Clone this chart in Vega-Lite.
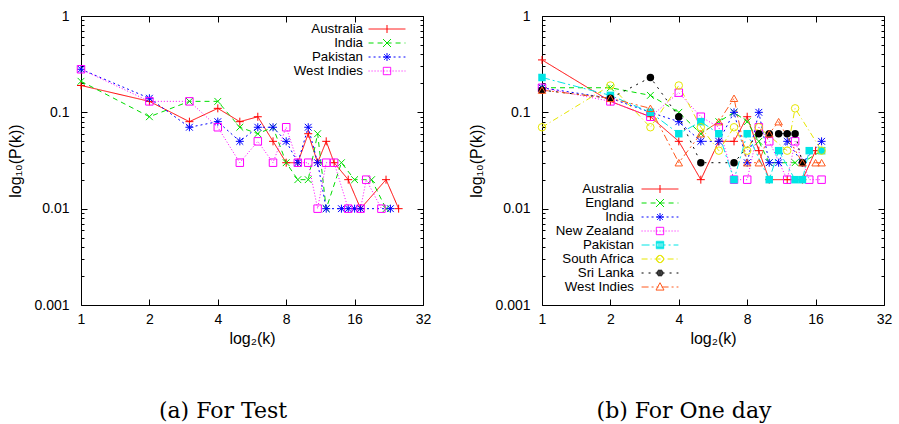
{
  "$schema": "https://vega.github.io/schema/vega-lite/v6.json",
  "padding": {"left": 7, "top": 8, "right": 0, "bottom": 0},
  "background": "white",
  "datasets": {
    "test": [
      {"team":"Australia","k":1,"p":0.19},{"team":"Australia","k":2,"p":0.13},{"team":"Australia","k":3,"p":0.08},{"team":"Australia","k":4,"p":0.11},{"team":"Australia","k":5,"p":0.08},{"team":"Australia","k":6,"p":0.09},{"team":"Australia","k":7,"p":0.05},{"team":"Australia","k":8,"p":0.03},{"team":"Australia","k":9,"p":0.03},{"team":"Australia","k":10,"p":0.06},{"team":"Australia","k":11,"p":0.03},{"team":"Australia","k":12,"p":0.05},{"team":"Australia","k":13,"p":0.03},{"team":"Australia","k":15,"p":0.02},{"team":"Australia","k":17,"p":0.01},{"team":"Australia","k":22,"p":0.02},{"team":"Australia","k":25,"p":0.01},
      {"team":"India","k":1,"p":0.21},{"team":"India","k":2,"p":0.09},{"team":"India","k":3,"p":0.13},{"team":"India","k":4,"p":0.13},{"team":"India","k":5,"p":0.07},{"team":"India","k":6,"p":0.06},{"team":"India","k":7,"p":0.07},{"team":"India","k":8,"p":0.03},{"team":"India","k":9,"p":0.02},{"team":"India","k":10,"p":0.02},{"team":"India","k":11,"p":0.06},{"team":"India","k":12,"p":0.01},{"team":"India","k":14,"p":0.03},{"team":"India","k":16,"p":0.02},{"team":"India","k":19,"p":0.02},{"team":"India","k":22,"p":0.01},
      {"team":"Pakistan","k":1,"p":0.28},{"team":"Pakistan","k":2,"p":0.14},{"team":"Pakistan","k":3,"p":0.07},{"team":"Pakistan","k":4,"p":0.08},{"team":"Pakistan","k":5,"p":0.05},{"team":"Pakistan","k":6,"p":0.07},{"team":"Pakistan","k":7,"p":0.07},{"team":"Pakistan","k":8,"p":0.05},{"team":"Pakistan","k":9,"p":0.03},{"team":"Pakistan","k":10,"p":0.07},{"team":"Pakistan","k":11,"p":0.03},{"team":"Pakistan","k":12,"p":0.01},{"team":"Pakistan","k":14,"p":0.01},{"team":"Pakistan","k":15,"p":0.01},{"team":"Pakistan","k":16,"p":0.01},{"team":"Pakistan","k":17,"p":0.01},{"team":"Pakistan","k":23,"p":0.01},
      {"team":"West Indies","k":1,"p":0.28},{"team":"West Indies","k":2,"p":0.13},{"team":"West Indies","k":3,"p":0.13},{"team":"West Indies","k":4,"p":0.07},{"team":"West Indies","k":5,"p":0.03},{"team":"West Indies","k":6,"p":0.05},{"team":"West Indies","k":7,"p":0.03},{"team":"West Indies","k":8,"p":0.07},{"team":"West Indies","k":9,"p":0.03},{"team":"West Indies","k":10,"p":0.03},{"team":"West Indies","k":11,"p":0.01},{"team":"West Indies","k":12,"p":0.03},{"team":"West Indies","k":13,"p":0.03},{"team":"West Indies","k":15,"p":0.01},{"team":"West Indies","k":17,"p":0.01},{"team":"West Indies","k":18,"p":0.02},{"team":"West Indies","k":21,"p":0.01}
    ],
    "odi": [
      {"team":"Australia","k":1,"p":0.35},{"team":"Australia","k":2,"p":0.13},{"team":"Australia","k":3,"p":0.09},{"team":"Australia","k":4,"p":0.05},{"team":"Australia","k":5,"p":0.02},{"team":"Australia","k":6,"p":0.05},{"team":"Australia","k":7,"p":0.05},{"team":"Australia","k":8,"p":0.09},{"team":"Australia","k":9,"p":0.04},{"team":"Australia","k":10,"p":0.02},{"team":"Australia","k":12,"p":0.02},{"team":"Australia","k":14,"p":0.02},{"team":"Australia","k":16,"p":0.04},
      {"team":"England","k":1,"p":0.18},{"team":"England","k":2,"p":0.18},{"team":"England","k":3,"p":0.15},{"team":"England","k":4,"p":0.1},{"team":"England","k":5,"p":0.06},{"team":"England","k":6,"p":0.08},{"team":"England","k":7,"p":0.1},{"team":"England","k":8,"p":0.08},{"team":"England","k":9,"p":0.05},{"team":"England","k":10,"p":0.03},{"team":"England","k":13,"p":0.03},{"team":"England","k":14,"p":0.03},{"team":"England","k":17,"p":0.04},
      {"team":"India","k":1,"p":0.18},{"team":"India","k":2,"p":0.14},{"team":"India","k":3,"p":0.1},{"team":"India","k":4,"p":0.08},{"team":"India","k":5,"p":0.05},{"team":"India","k":6,"p":0.05},{"team":"India","k":7,"p":0.1},{"team":"India","k":8,"p":0.03},{"team":"India","k":9,"p":0.1},{"team":"India","k":10,"p":0.03},{"team":"India","k":11,"p":0.03},{"team":"India","k":12,"p":0.05},{"team":"India","k":14,"p":0.03},{"team":"India","k":17,"p":0.05},
      {"team":"New Zealand","k":1,"p":0.18},{"team":"New Zealand","k":2,"p":0.13},{"team":"New Zealand","k":3,"p":0.09},{"team":"New Zealand","k":4,"p":0.16},{"team":"New Zealand","k":5,"p":0.09},{"team":"New Zealand","k":6,"p":0.07},{"team":"New Zealand","k":7,"p":0.02},{"team":"New Zealand","k":8,"p":0.02},{"team":"New Zealand","k":9,"p":0.07},{"team":"New Zealand","k":10,"p":0.05},{"team":"New Zealand","k":12,"p":0.02},{"team":"New Zealand","k":13,"p":0.05},{"team":"New Zealand","k":15,"p":0.02},{"team":"New Zealand","k":17,"p":0.02},
      {"team":"Pakistan","k":1,"p":0.23},{"team":"Pakistan","k":2,"p":0.15},{"team":"Pakistan","k":3,"p":0.1},{"team":"Pakistan","k":4,"p":0.06},{"team":"Pakistan","k":5,"p":0.08},{"team":"Pakistan","k":6,"p":0.06},{"team":"Pakistan","k":7,"p":0.02},{"team":"Pakistan","k":8,"p":0.06},{"team":"Pakistan","k":10,"p":0.02},{"team":"Pakistan","k":11,"p":0.04},{"team":"Pakistan","k":13,"p":0.02},{"team":"Pakistan","k":14,"p":0.02},{"team":"Pakistan","k":15,"p":0.04},{"team":"Pakistan","k":17,"p":0.04},
      {"team":"South Africa","k":1,"p":0.07},{"team":"South Africa","k":2,"p":0.19},{"team":"South Africa","k":3,"p":0.07},{"team":"South Africa","k":4,"p":0.19},{"team":"South Africa","k":5,"p":0.07},{"team":"South Africa","k":6,"p":0.04},{"team":"South Africa","k":7,"p":0.07},{"team":"South Africa","k":8,"p":0.04},{"team":"South Africa","k":9,"p":0.07},{"team":"South Africa","k":12,"p":0.04},{"team":"South Africa","k":13,"p":0.11},{"team":"South Africa","k":17,"p":0.04},
      {"team":"Sri Lanka","k":1,"p":0.17},{"team":"Sri Lanka","k":2,"p":0.14},{"team":"Sri Lanka","k":3,"p":0.23},{"team":"Sri Lanka","k":4,"p":0.09},{"team":"Sri Lanka","k":5,"p":0.03},{"team":"Sri Lanka","k":7,"p":0.03},{"team":"Sri Lanka","k":9,"p":0.06},{"team":"Sri Lanka","k":10,"p":0.06},{"team":"Sri Lanka","k":11,"p":0.06},{"team":"Sri Lanka","k":12,"p":0.06},{"team":"Sri Lanka","k":13,"p":0.06},{"team":"Sri Lanka","k":14,"p":0.03},
      {"team":"West Indies","k":1,"p":0.17},{"team":"West Indies","k":2,"p":0.14},{"team":"West Indies","k":3,"p":0.11},{"team":"West Indies","k":4,"p":0.03},{"team":"West Indies","k":5,"p":0.06},{"team":"West Indies","k":6,"p":0.08},{"team":"West Indies","k":7,"p":0.14},{"team":"West Indies","k":8,"p":0.03},{"team":"West Indies","k":9,"p":0.03},{"team":"West Indies","k":10,"p":0.06},{"team":"West Indies","k":11,"p":0.08},{"team":"West Indies","k":14,"p":0.03},{"team":"West Indies","k":16,"p":0.03},{"team":"West Indies","k":17,"p":0.03}
    ]
  },
  "hconcat": [
    {
      "width": 342, "height": 289,
      "data": {"name": "test"},
      "title": {"text": "(a) For Test", "orient": "bottom", "anchor": "middle", "frame": "group", "dx": -29, "offset": 55, "font": "DejaVu Serif", "fontSize": 22, "fontWeight": "normal", "color": "black"},
      "layer": [
        {
          "transform": [{"filter": "false"}],
          "mark": {"type": "point", "filled": false, "opacity": 1, "strokeWidth": 1},
          "encoding": {
            "x": {"field": "k", "type": "quantitative", "scale": {"type": "log", "base": 2, "domain": [1, 32], "nice": false}, "axis": null},
            "y": {"field": "p", "type": "quantitative", "scale": {"type": "log", "domain": [0.001, 1], "nice": false}, "axis": null},
            "color": {"field": "team", "type": "nominal",
                      "scale": {"domain": ["Australia", "India", "Pakistan", "West Indies"], "range": ["#ff0000", "#00dd00", "#0000ff", "#ff00ff"]},
                      "legend": {"orient": "none", "legendX": 299, "legendY": 6, "title": null, "padding": 0, "labelAlign": "right", "labelOffset": -31, "labelFontSize": 13.3, "labelFont": "Liberation Sans", "labelColor": "black", "labelLimit": 0, "symbolSize": 151, "symbolStrokeWidth": 1, "symbolOpacity": 1, "rowPadding": 0}},
            "shape": {"field": "team", "type": "nominal",
                      "scale": {"domain": ["Australia", "India", "Pakistan", "West Indies"],
                                "range": [
                                  "M-3,0H3M0,-0.65V0.65",
                                  "M-3,0H3M0,0L0.33,0.33M0.33,0.33L0.65,0.65M0,0L-0.33,-0.33M-0.33,-0.33L-0.65,-0.65M0,0L0.33,-0.33M0.33,-0.33L0.65,-0.65M0,0L-0.33,0.33M-0.33,0.33L-0.65,0.65",
                                  "M-3,0H3M0,0V0.32M0,0.32V0.65M0,0V-0.32M0,-0.32V-0.65M0,0H0.32M0.32,0H0.65M0,0H-0.32M-0.32,0H-0.65M0,0L0.23,0.23M0.23,0.23L0.46,0.46M0,0L-0.23,-0.23M-0.23,-0.23L-0.46,-0.46M0,0L0.23,-0.23M0.23,-0.23L0.46,-0.46M0,0L-0.23,0.23M-0.23,0.23L-0.46,0.46",
                                  "M-3,0H3M-0.6,-0.6H-0.45M-0.45,-0.6H-0.3M-0.3,-0.6H-0.15M-0.15,-0.6H0M0,-0.6H0.15M0.15,-0.6H0.3M0.3,-0.6H0.45M0.45,-0.6H0.6M-0.6,0.6H-0.45M-0.45,0.6H-0.3M-0.3,0.6H-0.15M-0.15,0.6H0M0,0.6H0.15M0.15,0.6H0.3M0.3,0.6H0.45M0.45,0.6H0.6M-0.6,-0.6V-0.45M-0.6,-0.45V-0.3M-0.6,-0.3V-0.15M-0.6,-0.15V0M-0.6,0V0.15M-0.6,0.15V0.3M-0.6,0.3V0.45M-0.6,0.45V0.6M0.6,-0.6V-0.45M0.6,-0.45V-0.3M0.6,-0.3V-0.15M0.6,-0.15V0M0.6,0V0.15M0.6,0.15V0.3M0.6,0.3V0.45M0.6,0.45V0.6"
                                ]}},
            "strokeDash": {"field": "team", "type": "nominal",
                           "scale": {"domain": ["Australia", "India", "Pakistan", "West Indies"], "range": [[1, 0], [5, 4], [2, 3], [1, 2]]}}
          }
        },
        {
          "mark": {"type": "line", "strokeWidth": 1, "clip": true},
          "encoding": {
            "x": {"field": "k", "type": "quantitative", "scale": {"type": "log", "base": 2, "domain": [1, 32], "nice": false},
                  "axis": {"orient": "bottom", "values": [1, 2, 4, 8, 16, 32], "format": "d", "tickSize": -6, "labelPadding": 13, "title": "log₂(k)", "titlePadding": 4}},
            "y": {"field": "p", "type": "quantitative", "scale": {"type": "log", "domain": [0.001, 1], "nice": false},
                  "axis": {"orient": "left", "values": [0.001,0.002,0.003,0.004,0.005,0.006,0.007,0.008,0.009,0.01,0.02,0.03,0.04,0.05,0.06,0.07,0.08,0.09,0.1,0.2,0.3,0.4,0.5,0.6,0.7,0.8,0.9,1],
                           "format": "~g", "labelExpr": "(datum.value==1||datum.value==0.1||datum.value==0.01||datum.value==0.001) ? datum.label : ''",
                           "tickSize": {"condition": {"test": "datum.value==1||datum.value==0.1||datum.value==0.01||datum.value==0.001", "value": -6}, "value": -3},
                           "labelPadding": 18, "title": "log₁₀(P(k))", "titlePadding": 10}},
            "color": {"field": "team", "type": "nominal"},
            "strokeDash": {"field": "team", "type": "nominal"}
          }
        },
        {
          "transform": [{"filter": {"field": "team", "equal": "Australia"}}],
          "mark": {"type": "point", "shape": "M-1,0H1M0,-1V1", "filled": false, "size": 64, "strokeWidth": 1, "opacity": 1},
          "encoding": {
            "x": {"field": "k", "type": "quantitative", "scale": {"type": "log", "base": 2, "domain": [1, 32], "nice": false},
                  "axis": {"orient": "top", "values": [1, 2, 4, 8, 16, 32], "labels": false, "tickSize": -6, "title": null}},
            "y": {"field": "p", "type": "quantitative", "scale": {"type": "log", "domain": [0.001, 1], "nice": false},
                  "axis": {"orient": "right", "values": [0.001,0.002,0.003,0.004,0.005,0.006,0.007,0.008,0.009,0.01,0.02,0.03,0.04,0.05,0.06,0.07,0.08,0.09,0.1,0.2,0.3,0.4,0.5,0.6,0.7,0.8,0.9,1],
                           "labels": false, "title": null,
                           "tickSize": {"condition": {"test": "datum.value==1||datum.value==0.1||datum.value==0.01||datum.value==0.001", "value": -6}, "value": -3}}},
            "color": {"field": "team", "type": "nominal"}
          }
        },
        {
          "transform": [{"filter": {"field": "team", "equal": "India"}}],
          "mark": {"type": "point", "shape": "M-0.85,-0.85L0.85,0.85M-0.85,0.85L0.85,-0.85", "filled": false, "size": 64, "strokeWidth": 1, "opacity": 1},
          "encoding": {
            "x": {"field": "k", "type": "quantitative", "axis": null},
            "y": {"field": "p", "type": "quantitative", "axis": null},
            "color": {"field": "team", "type": "nominal"}
          }
        },
        {
          "transform": [{"filter": {"field": "team", "equal": "Pakistan"}}],
          "mark": {"type": "point", "shape": "M-1,0H1M0,-1V1M-0.85,-0.85L0.85,0.85M-0.85,0.85L0.85,-0.85", "filled": false, "size": 64, "strokeWidth": 1, "opacity": 1},
          "encoding": {
            "x": {"field": "k", "type": "quantitative", "axis": null},
            "y": {"field": "p", "type": "quantitative", "axis": null},
            "color": {"field": "team", "type": "nominal"}
          }
        },
        {
          "transform": [{"filter": {"field": "team", "equal": "West Indies"}}],
          "mark": {"type": "point", "shape": "square", "filled": false, "size": 56, "strokeWidth": 1, "opacity": 1},
          "encoding": {
            "x": {"field": "k", "type": "quantitative", "axis": null},
            "y": {"field": "p", "type": "quantitative", "axis": null},
            "color": {"field": "team", "type": "nominal"}
          }
        }
      ],
      "resolve": {"axis": {"x": "independent", "y": "independent"}}
    },
    {
      "width": 342, "height": 289,
      "data": {"name": "odi"},
      "title": {"text": "(b) For One day", "orient": "bottom", "anchor": "middle", "frame": "group", "dx": -29, "offset": 55, "font": "DejaVu Serif", "fontSize": 22, "fontWeight": "normal", "color": "black"},
      "layer": [
        {
          "transform": [{"filter": "false"}],
          "mark": {"type": "point", "filled": false, "opacity": 1, "strokeWidth": 1},
          "encoding": {
            "x": {"field": "k", "type": "quantitative", "scale": {"type": "log", "base": 2, "domain": [1, 32], "nice": false}, "axis": null},
            "y": {"field": "p", "type": "quantitative", "scale": {"type": "log", "domain": [0.001, 1], "nice": false}, "axis": null},
            "color": {"field": "team", "type": "nominal",
                      "scale": {"domain": ["Australia", "England", "India", "New Zealand", "Pakistan", "South Africa", "Sri Lanka", "West Indies"],
                                "range": ["#ff0000", "#00dd00", "#0000ff", "#ff00ff", "#00e5e5", "#e6e600", "#000000", "#ff5a1e"]},
                      "legend": {"orient": "none", "legendX": 111, "legendY": 166, "title": null, "padding": 0, "labelAlign": "right", "labelOffset": -33, "labelFontSize": 13.3, "labelFont": "Liberation Sans", "labelColor": "black", "labelLimit": 0, "symbolSize": 151, "symbolStrokeWidth": 1, "symbolOpacity": 1, "rowPadding": 0}},
            "shape": {"field": "team", "type": "nominal",
                      "scale": {"domain": ["Australia", "England", "India", "New Zealand", "Pakistan", "South Africa", "Sri Lanka", "West Indies"],
                                "range": [
                                  "M-3,0H3M0,-0.65V0.65",
                                  "M-3,0H3M0,0L0.33,0.33M0.33,0.33L0.65,0.65M0,0L-0.33,-0.33M-0.33,-0.33L-0.65,-0.65M0,0L0.33,-0.33M0.33,-0.33L0.65,-0.65M0,0L-0.33,0.33M-0.33,0.33L-0.65,0.65",
                                  "M-3,0H3M0,0V0.32M0,0.32V0.65M0,0V-0.32M0,-0.32V-0.65M0,0H0.32M0.32,0H0.65M0,0H-0.32M-0.32,0H-0.65M0,0L0.23,0.23M0.23,0.23L0.46,0.46M0,0L-0.23,-0.23M-0.23,-0.23L-0.46,-0.46M0,0L0.23,-0.23M0.23,-0.23L0.46,-0.46M0,0L-0.23,0.23M-0.23,0.23L-0.46,0.46",
                                  "M-3,0H3M-0.6,-0.6H-0.45M-0.45,-0.6H-0.3M-0.3,-0.6H-0.15M-0.15,-0.6H0M0,-0.6H0.15M0.15,-0.6H0.3M0.3,-0.6H0.45M0.45,-0.6H0.6M-0.6,0.6H-0.45M-0.45,0.6H-0.3M-0.3,0.6H-0.15M-0.15,0.6H0M0,0.6H0.15M0.15,0.6H0.3M0.3,0.6H0.45M0.45,0.6H0.6M-0.6,-0.6V-0.45M-0.6,-0.45V-0.3M-0.6,-0.3V-0.15M-0.6,-0.15V0M-0.6,0V0.15M-0.6,0.15V0.3M-0.6,0.3V0.45M-0.6,0.45V0.6M0.6,-0.6V-0.45M0.6,-0.45V-0.3M0.6,-0.3V-0.15M0.6,-0.15V0M0.6,0V0.15M0.6,0.15V0.3M0.6,0.3V0.45M0.6,0.45V0.6",
                                  "M-3,0H3M-0.6,-0.6H0.6M0.6,-0.6V0.6M0.6,0.6H-0.6M-0.6,0.6V-0.6M-0.6,-0.4H0.6M-0.6,-0.2H0.6M-0.6,0.2H0.6M-0.6,0.4H0.6",
                                  "M-3,0H3M0.6,0A0.6,0.6,0,0,1,0,0.6M0,0.6A0.6,0.6,0,0,1,-0.6,0M-0.6,0A0.6,0.6,0,0,1,0,-0.6M0,-0.6A0.6,0.6,0,0,1,0.6,0",
                                  "M-3,0H3M-0.53,-0.15H-0.27M-0.27,-0.15H0M0,-0.15H0.27M0.27,-0.15H0.53M-0.53,0.15H-0.27M-0.27,0.15H0M0,0.15H0.27M0.27,0.15H0.53M-0.46,-0.3H-0.15M-0.15,-0.3H0.15M0.15,-0.3H0.46M-0.46,0.3H-0.15M-0.15,0.3H0.15M0.15,0.3H0.46M-0.32,-0.45H0M0,-0.45H0.32M-0.32,0.45H0M0,0.45H0.32M-0.55,0H-0.28M-0.28,0H0M0,0H0.28M0.28,0H0.55",
                                  "M-3,0H3M0,-0.7L0.325,-0.1M0.325,-0.1L0.65,0.5M0.65,0.5L0,0.5M0,0.5L-0.65,0.5M-0.65,0.5L-0.325,-0.1M-0.325,-0.1L0,-0.7"
                                ]}},
            "strokeDash": {"field": "team", "type": "nominal",
                           "scale": {"domain": ["Australia", "England", "India", "New Zealand", "Pakistan", "South Africa", "Sri Lanka", "West Indies"],
                                     "range": [[1, 0], [5, 4], [2, 3], [1, 2], [8, 3, 2, 3], [6, 3, 1, 3], [2, 5], [7, 3, 2, 3, 2, 3]]}}
          }
        },
        {
          "mark": {"type": "line", "strokeWidth": 1, "clip": true},
          "encoding": {
            "x": {"field": "k", "type": "quantitative", "scale": {"type": "log", "base": 2, "domain": [1, 32], "nice": false},
                  "axis": {"orient": "bottom", "values": [1, 2, 4, 8, 16, 32], "format": "d", "tickSize": -6, "labelPadding": 13, "title": "log₂(k)", "titlePadding": 4}},
            "y": {"field": "p", "type": "quantitative", "scale": {"type": "log", "domain": [0.001, 1], "nice": false},
                  "axis": {"orient": "left", "values": [0.001,0.002,0.003,0.004,0.005,0.006,0.007,0.008,0.009,0.01,0.02,0.03,0.04,0.05,0.06,0.07,0.08,0.09,0.1,0.2,0.3,0.4,0.5,0.6,0.7,0.8,0.9,1],
                           "format": "~g", "labelExpr": "(datum.value==1||datum.value==0.1||datum.value==0.01||datum.value==0.001) ? datum.label : ''",
                           "tickSize": {"condition": {"test": "datum.value==1||datum.value==0.1||datum.value==0.01||datum.value==0.001", "value": -6}, "value": -3},
                           "labelPadding": 18, "title": "log₁₀(P(k))", "titlePadding": 10}},
            "color": {"field": "team", "type": "nominal"},
            "strokeDash": {"field": "team", "type": "nominal"}
          }
        },
        {
          "transform": [{"filter": {"field": "team", "equal": "Australia"}}],
          "mark": {"type": "point", "shape": "M-1,0H1M0,-1V1", "filled": false, "size": 64, "strokeWidth": 1, "opacity": 1},
          "encoding": {
            "x": {"field": "k", "type": "quantitative", "scale": {"type": "log", "base": 2, "domain": [1, 32], "nice": false},
                  "axis": {"orient": "top", "values": [1, 2, 4, 8, 16, 32], "labels": false, "tickSize": -6, "title": null}},
            "y": {"field": "p", "type": "quantitative", "scale": {"type": "log", "domain": [0.001, 1], "nice": false},
                  "axis": {"orient": "right", "values": [0.001,0.002,0.003,0.004,0.005,0.006,0.007,0.008,0.009,0.01,0.02,0.03,0.04,0.05,0.06,0.07,0.08,0.09,0.1,0.2,0.3,0.4,0.5,0.6,0.7,0.8,0.9,1],
                           "labels": false, "title": null,
                           "tickSize": {"condition": {"test": "datum.value==1||datum.value==0.1||datum.value==0.01||datum.value==0.001", "value": -6}, "value": -3}}},
            "color": {"field": "team", "type": "nominal"}
          }
        },
        {
          "transform": [{"filter": {"field": "team", "equal": "England"}}],
          "mark": {"type": "point", "shape": "M-0.85,-0.85L0.85,0.85M-0.85,0.85L0.85,-0.85", "filled": false, "size": 64, "strokeWidth": 1, "opacity": 1},
          "encoding": {"x": {"field": "k", "type": "quantitative", "axis": null}, "y": {"field": "p", "type": "quantitative", "axis": null}, "color": {"field": "team", "type": "nominal"}}
        },
        {
          "transform": [{"filter": {"field": "team", "equal": "India"}}],
          "mark": {"type": "point", "shape": "M-1,0H1M0,-1V1M-0.85,-0.85L0.85,0.85M-0.85,0.85L0.85,-0.85", "filled": false, "size": 64, "strokeWidth": 1, "opacity": 1},
          "encoding": {"x": {"field": "k", "type": "quantitative", "axis": null}, "y": {"field": "p", "type": "quantitative", "axis": null}, "color": {"field": "team", "type": "nominal"}}
        },
        {
          "transform": [{"filter": {"field": "team", "equal": "New Zealand"}}],
          "mark": {"type": "point", "shape": "square", "filled": false, "size": 56, "strokeWidth": 1, "opacity": 1},
          "encoding": {"x": {"field": "k", "type": "quantitative", "axis": null}, "y": {"field": "p", "type": "quantitative", "axis": null}, "color": {"field": "team", "type": "nominal"}}
        },
        {
          "transform": [{"filter": {"field": "team", "equal": "Pakistan"}}],
          "mark": {"type": "point", "shape": "square", "filled": true, "size": 56, "opacity": 1},
          "encoding": {"x": {"field": "k", "type": "quantitative", "axis": null}, "y": {"field": "p", "type": "quantitative", "axis": null}, "color": {"field": "team", "type": "nominal"}}
        },
        {
          "transform": [{"filter": {"field": "team", "equal": "South Africa"}}],
          "mark": {"type": "point", "shape": "circle", "filled": false, "size": 56, "strokeWidth": 1, "opacity": 1},
          "encoding": {"x": {"field": "k", "type": "quantitative", "axis": null}, "y": {"field": "p", "type": "quantitative", "axis": null}, "color": {"field": "team", "type": "nominal"}}
        },
        {
          "transform": [{"filter": {"field": "team", "equal": "Sri Lanka"}}],
          "mark": {"type": "point", "shape": "circle", "filled": true, "size": 56, "opacity": 1},
          "encoding": {"x": {"field": "k", "type": "quantitative", "axis": null}, "y": {"field": "p", "type": "quantitative", "axis": null}, "color": {"field": "team", "type": "nominal"}}
        },
        {
          "transform": [{"filter": {"field": "team", "equal": "West Indies"}}],
          "mark": {"type": "point", "shape": "triangle-up", "filled": false, "size": 56, "strokeWidth": 1, "opacity": 1},
          "encoding": {"x": {"field": "k", "type": "quantitative", "axis": null}, "y": {"field": "p", "type": "quantitative", "axis": null}, "color": {"field": "team", "type": "nominal"}}
        }
      ],
      "resolve": {"axis": {"x": "independent", "y": "independent"}}
    }
  ],
  "spacing": 36,
  "resolve": {
    "scale": {"color": "independent", "strokeDash": "independent", "shape": "independent"},
    "legend": {"color": "independent", "strokeDash": "independent", "shape": "independent"}
  },
  "config": {
    "font": "Liberation Sans",
    "view": {"stroke": "black", "strokeWidth": 1},
    "axis": {"grid": false, "domain": false, "tickColor": "black", "tickWidth": 1, "labelColor": "black", "labelFontSize": 14, "labelFont": "Liberation Sans", "titleFont": "Liberation Sans", "titleFontSize": 16, "titleFontWeight": "normal", "titleColor": "black", "labelFlush": false, "labelOverlap": false, "labelBound": false}
  }
}
